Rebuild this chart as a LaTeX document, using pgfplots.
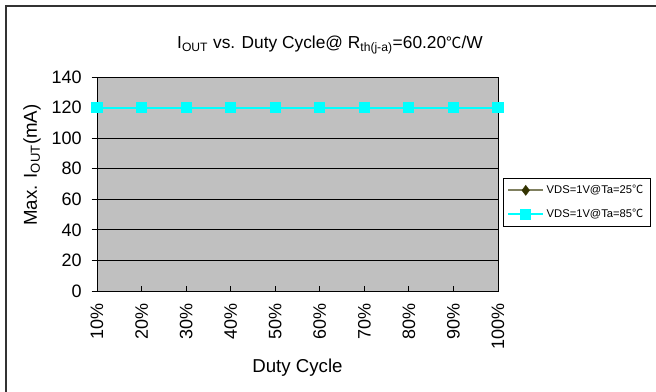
\documentclass[border=0pt]{standalone}
\usepackage{pgfplots}
\pgfplotsset{compat=1.18}
\usepackage{fontspec}
\setmainfont{Liberation Sans}
\newfontfamily\cjk{Noto Sans CJK SC}
\definecolor{plotgray}{RGB}{192,192,192}
\definecolor{olivelin}{RGB}{128,128,96}
\definecolor{olivemark}{RGB}{51,51,0}
\definecolor{cyanc}{RGB}{0,255,255}
\begin{document}
\begin{tikzpicture}
\useasboundingbox (0,0) rectangle (492pt,294pt);
\fill[white] (0,0) rectangle (492pt,294pt);
\draw[line width=1.5pt, black!80] (4.5pt,0) -- (4.5pt,289.5pt) -- (492pt,289.5pt);
\begin{axis}[
  at={(72.75pt,75.75pt)}, anchor=south west,
  scale only axis, width=300.75pt, height=160.5pt,
  xmin=1, xmax=10, ymin=0, ymax=140,
  xtick={1,...,10},
  xticklabels={10\%,20\%,30\%,40\%,50\%,60\%,70\%,80\%,90\%,100\%},
  ytick={0,20,...,140},
  axis background/.style={fill=plotgray},
  axis line style={black, line width=0.6pt},
  ymajorgrids, major grid style={black, line width=0.6pt},
  x tick style={black, line width=0.6pt},
  y tick style={black, line width=0.6pt},
  xtick pos=bottom, ytick pos=left,
  major tick length=4pt,
  xtick align=inside, ytick align=outside,
  /pgf/number format/assume math mode=true,
  tick label style={font=\fontsize{13.5}{16}\selectfont},
  x tick label style={rotate=90, anchor=east, xshift=-6pt},
  y tick label style={xshift=-4pt},
  title={I\textsubscript{OUT} vs. Duty Cycle@ R\textsubscript{th(j-a)}=60.20{\cjk\fontsize{11.5}{12}\selectfont ℃}/W},
  title style={at={(rel axis cs:0.581,1.113)}, anchor=center, font=\fontsize{13}{15}\selectfont},
  xlabel={Duty Cycle},
  xlabel style={at={(rel axis cs:0.5,-0.36)}, anchor=center, font=\fontsize{14}{16}\selectfont},
  ylabel={Max. I\textsubscript{OUT}(mA)},
  ylabel style={at={(rel axis cs:-0.162,0.589)}, anchor=center, rotate=0, font=\fontsize{14}{16}\selectfont},
  legend style={at={(rel axis cs:1.0125,0.528)}, anchor=north west, draw=black, line width=0.6pt, fill=white,
    font=\fontsize{8.4}{10}\selectfont, row sep=6pt, inner sep=3pt},
  legend cell align=left,
  legend image code/.code={\draw[mark repeat=2,mark phase=2] plot coordinates {(0pt,0pt) (13pt,0pt) (26pt,0pt)};},
]
\addplot[draw=olivelin, line width=1.5pt, mark=diamond*, mark size=3.8pt, mark options={fill=olivemark, draw=olivemark, line width=0.3pt}]
  coordinates {(1,120) (2,120) (3,120) (4,120) (5,120) (6,120) (7,120) (8,120) (9,120) (10,120)};
\addlegendentry{VDS=1V@Ta=25{\cjk ℃}}
\addplot[draw=cyanc, line width=1.5pt, mark=square*, mark size=3.4pt, mark options={fill=cyanc, draw=cyanc}]
  coordinates {(1,120) (2,120) (3,120) (4,120) (5,120) (6,120) (7,120) (8,120) (9,120) (10,120)};
\addlegendentry{VDS=1V@Ta=85{\cjk ℃}}
\end{axis}
\end{tikzpicture}
\end{document}
